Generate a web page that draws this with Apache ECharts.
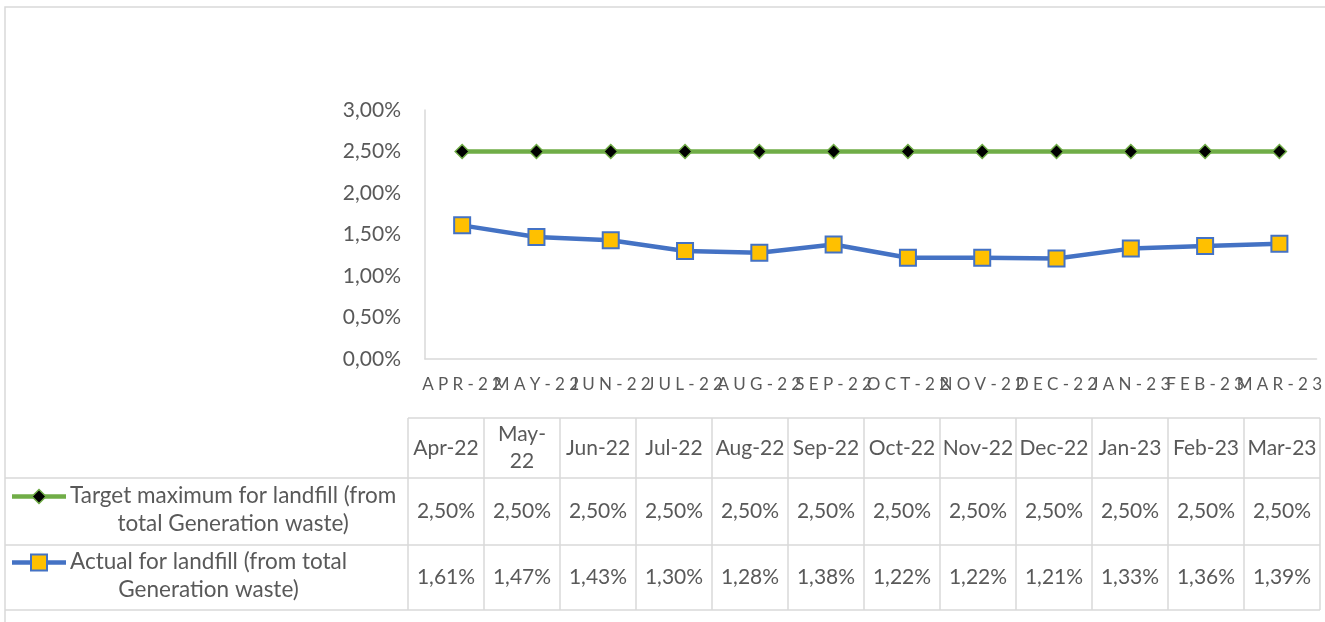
<!DOCTYPE html>
<html>
<head>
<meta charset="utf-8">
<title>Landfill share</title>
<script src="https://cdn.jsdelivr.net/npm/echarts@6/dist/echarts.min.js"></script>
<style>
  html, body { margin: 0; padding: 0; background: #fff; }
  #main { width: 1325px; height: 622px; }
</style>
</head>
<body>
<div id="main"></div>
<script>
  // categories
  var months = ['Apr-22', 'May-22', 'Jun-22', 'Jul-22', 'Aug-22', 'Sep-22',
                'Oct-22', 'Nov-22', 'Dec-22', 'Jan-23', 'Feb-23', 'Mar-23'];
  // data table headers (Excel wrapped May)
  var tableHeads = ['Apr-22', 'May-\n22', 'Jun-22', 'Jul-22', 'Aug-22', 'Sep-22',
                    'Oct-22', 'Nov-22', 'Dec-22', 'Jan-23', 'Feb-23', 'Mar-23'];

  var targetName = 'Target maximum for landfill (from total Generation waste)';
  var actualName = 'Actual for landfill (from total Generation waste)';

  // values in %
  var targetValues = [2.50, 2.50, 2.50, 2.50, 2.50, 2.50, 2.50, 2.50, 2.50, 2.50, 2.50, 2.50];
  var actualValues = [1.61, 1.47, 1.43, 1.30, 1.28, 1.38, 1.22, 1.22, 1.21, 1.33, 1.36, 1.39];

  var grey = '#595959';
  var lineGrey = '#d9d9d9';
  var green = '#70ad47';
  var blue = '#4472c4';
  var font = 'Lato';
  var legendFont = '22.5px ' + font;

  function pct(v) {
    return v.toFixed(2).replace('.', ',') + '%';
  }

  // wrap a legend name the way the data table does
  var ctx = document.createElement('canvas').getContext('2d');
  ctx.font = legendFont;
  function wrap(str, maxW) {
    var words = str.split(' '), lines = [], cur = '';
    words.forEach(function (w) {
      var t = cur ? cur + ' ' + w : w;
      if (cur && ctx.measureText(t).width > maxW) {
        lines.push(cur);
        cur = w;
      } else {
        cur = t;
      }
    });
    lines.push(cur);
    return lines;
  }

  // table layout
  var colLeft = 408, colW = 76;
  var rowY = [418, 478, 545, 610];
  var graphic = [];

  // outer chart border (runs off the right and bottom edge)
  graphic.push({
    type: 'rect', shape: {x: 5, y: 7, width: 1340, height: 640},
    style: {fill: null, stroke: lineGrey, lineWidth: 1.5}, silent: true
  });

  // horizontal table lines
  rowY.forEach(function (y, i) {
    graphic.push({
      type: 'line', shape: {x1: i === 0 ? colLeft : 5, y1: y, x2: colLeft + colW * 12, y2: y},
      style: {stroke: lineGrey, lineWidth: 1.5}, silent: true
    });
  });
  // vertical table lines
  for (var c = 0; c <= 12; c++) {
    graphic.push({
      type: 'line', shape: {x1: colLeft + colW * c, y1: rowY[0], x2: colLeft + colW * c, y2: rowY[3]},
      style: {stroke: lineGrey, lineWidth: 1.5}, silent: true
    });
  }

  function cellText(txt, x, y) {
    return {
      type: 'text', x: x, y: y, silent: true,
      style: {
        text: txt, fill: grey, font: '21px ' + font,
        align: 'center', verticalAlign: 'middle', lineHeight: 27
      }
    };
  }

  months.forEach(function (m, i) {
    var cx = colLeft + colW * i + colW / 2;
    graphic.push(cellText(tableHeads[i], cx, (rowY[0] + rowY[1]) / 2));
    graphic.push(cellText(pct(targetValues[i]), cx, (rowY[1] + rowY[2]) / 2));
    graphic.push(cellText(pct(actualValues[i]), cx, (rowY[2] + rowY[3]) / 2));
  });

  // legend keys + names in the table
  var keys = [
    {name: targetName, color: green, row: 1, symbol: 'diamond'},
    {name: actualName, color: blue, row: 2, symbol: 'rect'}
  ];
  keys.forEach(function (k) {
    var cy = (rowY[k.row] + rowY[k.row + 1]) / 2;
    var lines = wrap(k.name, 345);
    var maxW = Math.max.apply(null, lines.map(function (l) { return ctx.measureText(l).width; }));
    var keyY = cy - 15;
    graphic.push({
      type: 'line', shape: {x1: 12, y1: keyY, x2: 66, y2: keyY},
      style: {stroke: k.color, lineWidth: 4.5}, silent: true
    });
    if (k.symbol === 'diamond') {
      graphic.push({
        type: 'polygon', silent: true,
        shape: {points: [[39, keyY - 7], [46, keyY], [39, keyY + 7], [32, keyY]]},
        style: {fill: '#000', stroke: green, lineWidth: 1.5}
      });
    } else {
      graphic.push({
        type: 'rect', silent: true,
        shape: {x: 31, y: keyY - 8, width: 16, height: 16},
        style: {fill: '#ffc000', stroke: blue, lineWidth: 2}
      });
    }
    graphic.push({
      type: 'text', x: 70 + maxW / 2, y: cy - 2, silent: true,
      style: {
        text: lines.join('\n'), fill: grey, font: legendFont,
        align: 'center', verticalAlign: 'middle', lineHeight: 28
      }
    });
  });

  var chart = echarts.init(document.getElementById('main'), null, {renderer: 'canvas'});
  chart.setOption({
    animation: false,
    backgroundColor: '#fff',
    textStyle: {fontFamily: font},
    grid: {left: 425, right: 8, top: 110, bottom: 263, containLabel: false},
    xAxis: {
      type: 'category',
      data: months,
      boundaryGap: true,
      axisLine: {lineStyle: {color: lineGrey, width: 1.5}},
      axisTick: {show: false},
      axisLabel: {
        color: grey, fontSize: 17, fontFamily: font, margin: 17, interval: 0,
        formatter: function (v) { return v.toUpperCase().split('').join('\u2005'); }
      },
      splitLine: {show: false}
    },
    yAxis: {
      type: 'value',
      min: 0, max: 3, interval: 0.5,
      axisLine: {show: true, lineStyle: {color: lineGrey, width: 1.5}},
      axisTick: {show: false},
      splitLine: {show: false},
      axisLabel: {color: grey, fontSize: 21, fontFamily: font, margin: 24, formatter: pct}
    },
    series: [
      {
        name: targetName, type: 'line', data: targetValues,
        symbol: 'diamond', symbolSize: 14,
        lineStyle: {color: green, width: 4.5},
        itemStyle: {color: '#000', borderColor: green, borderWidth: 1.5}
      },
      {
        name: actualName, type: 'line', data: actualValues,
        symbol: 'rect', symbolSize: 16,
        lineStyle: {color: blue, width: 4.5},
        itemStyle: {color: '#ffc000', borderColor: blue, borderWidth: 2}
      }
    ],
    graphic: graphic
  });
</script>
</body>
</html>
